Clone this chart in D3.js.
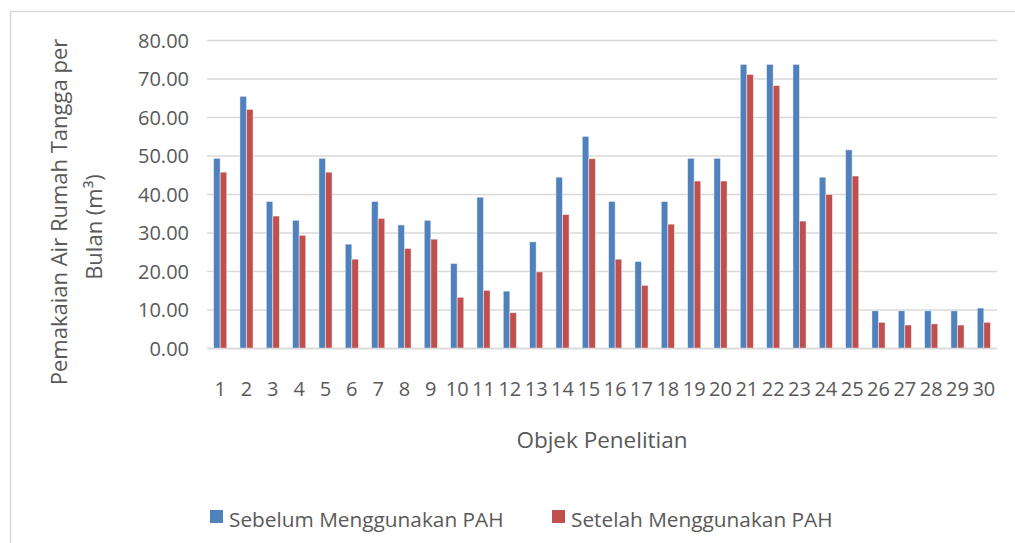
<!DOCTYPE html>
<html>
<head>
<meta charset="utf-8">
<script src="https://cdn.jsdelivr.net/npm/d3@7"></script>
<style>
  body { margin: 0; background: #fff; }
  svg text { font-family: "Open Sans", "Noto Sans", sans-serif; fill: #595959; }
</style>
</head>
<body>
<div id="chart"></div>
<script>
// data
const objek = d3.range(1, 31).map(String);
const sebelum = [49.4, 65.5, 38.2, 33.3, 49.4, 27.1, 38.2, 32.1, 33.3, 22.1,
                 39.3, 14.9, 27.7, 44.5, 55.1, 38.2, 22.6, 38.2, 49.4, 49.4,
                 73.8, 73.8, 73.8, 44.5, 51.6, 9.8, 9.8, 9.8, 9.8, 10.5];
const setelah = [45.8, 62.1, 34.4, 29.4, 45.8, 23.2, 33.8, 26.0, 28.4, 13.3,
                 15.1, 9.3, 19.9, 34.8, 49.3, 23.2, 16.4, 32.3, 43.5, 43.5,
                 71.2, 68.3, 33.1, 40.0, 44.8, 6.8, 6.1, 6.4, 6.1, 6.8];
const yTicks = [0, 10, 20, 30, 40, 50, 60, 70, 80];
const seriesNames = ["Sebelum Menggunakan PAH", "Setelah Menggunakan PAH"];
const colors = ["#4F81BD", "#C0504D"];

const width = 1015, height = 543;
const plot = { left: 207, right: 997, top: 40.5, bottom: 348.5 };

const svg = d3.select("#chart").append("svg")
    .attr("width", width)
    .attr("height", height);

// outer chart border (only top/left visible in the crop)
svg.append("rect")
    .attr("x", 10.5).attr("y", 11.5)
    .attr("width", 1040).attr("height", 580)
    .attr("fill", "none")
    .attr("stroke", "#d9d9d9")
    .attr("stroke-width", 1.5);

const x0 = d3.scaleBand()
    .domain(objek)
    .range([plot.left, plot.right])
    .paddingInner(0.5)
    .paddingOuter(0.25);

const x1 = d3.scaleBand()
    .domain([0, 1])
    .range([0, x0.bandwidth()]);

const y = d3.scaleLinear()
    .domain([0, 80])
    .range([plot.bottom, plot.top]);

// gridlines
svg.append("g")
    .selectAll("line")
    .data(yTicks)
    .enter().append("line")
    .attr("x1", plot.left).attr("x2", plot.right)
    .attr("y1", d => y(d)).attr("y2", d => y(d))
    .attr("stroke", "#d9d9d9")
    .attr("stroke-width", 1.3);

// y tick labels
svg.append("g")
    .selectAll("text")
    .data(yTicks)
    .enter().append("text")
    .attr("x", 189)
    .attr("y", d => y(d))
    .attr("dy", "0.36em")
    .attr("text-anchor", "end")
    .style("font-size", "20px")
    .text(d => d.toFixed(2));

// bars
const rows = objek.map((k, i) => ({ k, vals: [sebelum[i], setelah[i]] }));

const group = svg.append("g")
    .selectAll("g")
    .data(rows)
    .enter().append("g")
    .attr("transform", d => `translate(${x0(d.k)},0)`);

group.selectAll("rect")
    .data(d => d.vals.map((v, s) => ({ v, s })))
    .enter().append("rect")
    .attr("x", d => x1(d.s))
    .attr("y", d => y(d.v))
    .attr("width", x1.bandwidth())
    .attr("height", d => y(0) - y(d.v))
    .attr("fill", d => colors[d.s])
    .attr("stroke", "#fff")
    .attr("stroke-opacity", 0.6)
    .attr("stroke-width", 0.8);

// x axis line
svg.append("line")
    .attr("x1", plot.left).attr("x2", plot.right)
    .attr("y1", y(0)).attr("y2", y(0))
    .attr("stroke", "#d9d9d9")
    .attr("stroke-width", 1.3);

// x tick labels
svg.append("g")
    .selectAll("text")
    .data(objek)
    .enter().append("text")
    .attr("x", d => x0(d) + x0.bandwidth() / 2)
    .attr("y", 396)
    .attr("text-anchor", "middle")
    .style("font-size", "20px")
    .text(d => d);

// axis titles
svg.append("text")
    .attr("x", (plot.left + plot.right) / 2)
    .attr("y", 448)
    .attr("text-anchor", "middle")
    .style("font-size", "22.5px")
    .text("Objek Penelitian");

svg.append("text")
    .attr("transform", "translate(67,212) rotate(-90)")
    .attr("text-anchor", "middle")
    .style("font-size", "22px")
    .text("Pemakaian Air Rumah Tangga per");

svg.append("text")
    .attr("transform", "translate(102,227) rotate(-90)")
    .attr("text-anchor", "middle")
    .style("font-size", "22px")
    .text("Bulan (m³)");

// legend
const legendX = [210, 552];
const legend = svg.append("g")
    .selectAll("g")
    .data(seriesNames)
    .enter().append("g")
    .attr("transform", (d, i) => `translate(${legendX[i]},510)`);

legend.append("rect")
    .attr("width", 13).attr("height", 13)
    .attr("fill", (d, i) => colors[i]);

legend.append("text")
    .attr("x", 19)
    .attr("y", 17)
    .style("font-size", "20.8px")
    .text(d => d);
</script>
</body>
</html>
